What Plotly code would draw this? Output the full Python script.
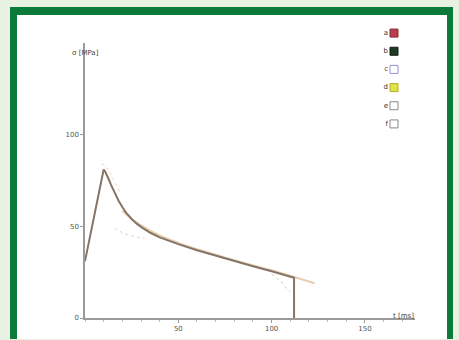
import plotly.graph_objects as go

# ---- data ----
t_main = [0, 10, 11, 12, 13, 14, 16, 18, 20, 22, 25, 28, 31, 35, 40, 45, 50, 60, 70, 80, 90, 100, 112, 112]
s_main = [31, 81, 79.5, 77.5, 75, 72.5, 68, 64, 60.5, 57.5, 54, 51.2, 49, 46.5, 44, 42, 40.3, 37, 34, 31, 28.2, 25.5, 22, 0]

t_fit = [20, 25, 30, 40, 50, 60, 70, 80, 90, 100, 110, 123]
s_fit = [58.5, 54, 50.5, 45, 41, 37.5, 34.5, 31.5, 28.7, 26, 23, 19]

t_peakfit = [9, 11, 13, 15, 17, 19]
s_peakfit = [84, 83, 80, 76, 72, 68]

t_lowfit = [16, 20, 24, 28, 32]
s_lowfit = [49, 46.5, 45, 44, 43.5]

t_tail = [100, 105, 108, 110]
s_tail = [24, 20, 16, 14]

legend_labels = ["a", "b", "c", "d", "e", "f"]
legend_fill = ["#b8404e", "#1f3a24", "#ffffff", "#e2e24a", "#ffffff", "#ffffff"]
legend_line = ["#8a2a38", "#10200f", "#9090d0", "#b0b020", "#888888", "#888888"]

x_ticks = [50, 100, 150]
y_ticks = [0, 50, 100]

W, H = 459, 340

fig = go.Figure()

# faint fitted curves
fig.add_trace(go.Scatter(x=t_fit, y=s_fit, mode="lines", line_shape="spline",
                         line=dict(color="#e6cfae", width=2), hoverinfo="skip"))
fig.add_trace(go.Scatter(x=t_peakfit, y=s_peakfit, mode="lines",
                         line=dict(color="#ead8c0", width=1, dash="dot"), hoverinfo="skip"))
fig.add_trace(go.Scatter(x=t_lowfit, y=s_lowfit, mode="lines",
                         line=dict(color="#e4d4c0", width=1, dash="dot"), hoverinfo="skip"))
fig.add_trace(go.Scatter(x=t_tail, y=s_tail, mode="lines",
                         line=dict(color="#e0cdb0", width=1, dash="dot"), hoverinfo="skip"))

# main curve
fig.add_trace(go.Scatter(x=t_main, y=s_main, mode="lines",
                         line=dict(color="#857468", width=2), hoverinfo="skip"))

# legend (custom, labels left of boxes) on an overlay axis
n = len(legend_labels)
leg_x = [0.5] * n
leg_y = [n - i for i in range(n)]
fig.add_trace(go.Scatter(
    x=leg_x, y=leg_y, mode="markers+text",
    text=legend_labels, textposition="middle left",
    textfont=dict(size=7, color="#333333", family="DejaVu Sans"),
    marker=dict(symbol="square", size=8, color=legend_fill,
                line=dict(color=legend_line, width=1)),
    xaxis="x2", yaxis="y2", hoverinfo="skip"))

def px_x(p):
    return p / W

def px_y(p):
    return 1 - p / H

fig.update_layout(
    width=W, height=H,
    margin=dict(l=0, r=0, t=0, b=0, pad=0),
    paper_bgcolor="#e8f2e2",
    plot_bgcolor="rgba(0,0,0,0)",
    showlegend=False,
    xaxis=dict(domain=[px_x(85), px_x(415)], range=[0, 176.8],
               tickvals=x_ticks, ticktext=[str(v) for v in x_ticks],
               showgrid=False, zeroline=False, automargin=False,
               showline=True, linecolor="#9a9a9a", linewidth=1.5,
               ticks="outside", ticklen=3, tickcolor="#9a9a9a",
               minor=dict(dtick=10, ticks="outside", ticklen=2, tickcolor="#bbbbbb"),
               tickfont=dict(size=7, color="#555555", family="DejaVu Sans"),
               anchor="y"),
    yaxis=dict(domain=[px_y(318), px_y(43)], range=[0, 150],
               tickvals=y_ticks, ticktext=[str(v) for v in y_ticks],
               showgrid=False, zeroline=False, automargin=False,
               showline=True, linecolor="#9a9a9a", linewidth=1.5,
               ticks="outside", ticklen=3, tickcolor="#9a9a9a",
               tickfont=dict(size=7, color="#555555", family="DejaVu Sans"),
               anchor="x"),
    xaxis2=dict(domain=[px_x(374), px_x(414)], range=[0, 1], visible=False,
                automargin=False, anchor="y2", fixedrange=True),
    yaxis2=dict(domain=[px_y(133), px_y(24)], range=[0.5, n + 0.5], visible=False,
                automargin=False, anchor="x2", fixedrange=True),
    shapes=[
        dict(type="rect", xref="paper", yref="paper",
             x0=px_x(10), x1=px_x(453), y0=px_y(339), y1=px_y(7),
             fillcolor="#0b7a3b", line=dict(width=0), layer="below"),
        dict(type="rect", xref="paper", yref="paper",
             x0=px_x(17), x1=px_x(447), y0=px_y(339), y1=px_y(15),
             fillcolor="#ffffff", line=dict(width=0), layer="below"),
    ],
    annotations=[
        dict(text="σ [MPa]", xref="paper", yref="paper",
             x=px_x(85), y=px_y(53), showarrow=False,
             xanchor="center", yanchor="middle",
             font=dict(size=7, color="#444444", family="DejaVu Sans")),
        dict(text="t [ms]", xref="paper", yref="paper",
             x=px_x(403), y=px_y(316), showarrow=False,
             xanchor="center", yanchor="middle",
             font=dict(size=7, color="#444444", family="DejaVu Sans")),
    ],
)

fig.write_html(
    "out.html",
    config={"displayModeBar": False},
    post_script=(
        "document.body.style.margin='0';"
        "document.body.style.background='#e8f2e2';"
    ),
)
